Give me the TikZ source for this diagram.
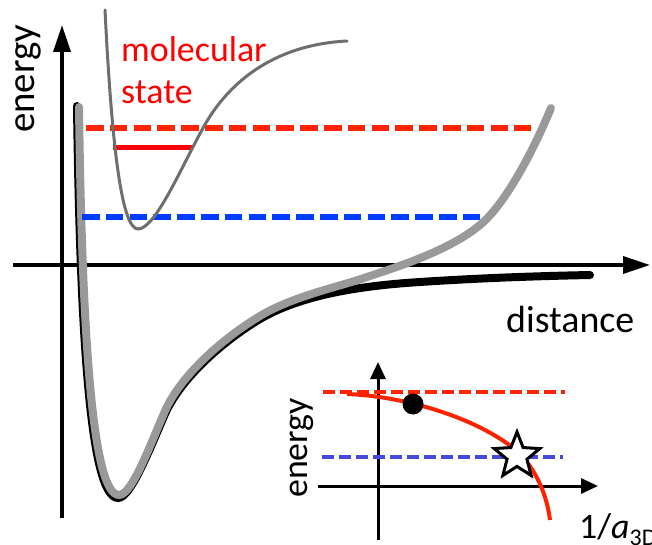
\documentclass[tikz,border=0pt]{standalone}
\usepackage{fontspec}
\setmainfont{Carlito}
\usetikzlibrary{arrows.meta,shapes.geometric}
\definecolor{dred}{HTML}{FF2200}
\definecolor{pred}{HTML}{FF0000}
\definecolor{dblue}{HTML}{003CFF}
\definecolor{iblue}{HTML}{4848DC}
\definecolor{potgray}{HTML}{999999}
\definecolor{molgray}{HTML}{6E6E6E}
\begin{document}
\begin{tikzpicture}[x=1bp,y=-1bp,
  axis/.style={line width=3.5bp,-{Triangle[length=27bp,width=17bp]}},
  iaxis/.style={line width=3bp,-{Triangle[length=17bp,width=15bp]}},
  reddash/.style={dred,line width=5.7bp,dash pattern=on 17.5bp off 6.3bp},
  bluedash/.style={dblue,line width=5.7bp,dash pattern=on 17.5bp off 6.3bp},
  ireddash/.style={dred,line width=4bp,dash pattern=on 12bp off 5bp},
  ibluedash/.style={iblue,line width=4bp,dash pattern=on 12bp off 5bp},
  blackpot/.style={black,line width=8bp,line cap=round},
  graypot/.style={potgray,line width=8bp,line cap=round},
  molpot/.style={molgray,line width=3bp,line cap=round},
  lbl/.style={inner sep=0pt,anchor=base west},
]
\useasboundingbox (0,0) rectangle (652,545);

% main axes
\coordinate (ya) at (62,518);
\coordinate (yb) at (62,25);
\coordinate (xa) at (13,265);
\coordinate (xb) at (650,265);
\draw[axis] (ya) -- (yb);
\draw[axis] (xa) -- (xb);

% potentials
\draw[blackpot] (77,106) .. controls (80,330) and (90,498) .. (118,498)
  .. controls (131,498) and (150,448) .. (165,414)
  .. controls (180,380) and (220,343) .. (260,319)
  .. controls (293,300) and (340,287) .. (420,282)
  .. controls (480,278) and (540,276) .. (590,275);
\draw[graypot] (79,107) .. controls (82,330) and (92,495) .. (119,495)
  .. controls (132,495) and (150,445) .. (165,411)
  .. controls (180,377) and (220,340) .. (260,316)
  .. controls (293,296) and (342,286) .. (367,277)
  .. controls (400,266) and (450,250) .. (480,225)
  .. controls (510,200) and (540,135) .. (551,108);

% levels
\coordinate (bd1) at (82,217);
\coordinate (bd2) at (486,217);
\draw[bluedash] (bd1) -- (bd2);
\coordinate (rd1) at (86,128);
\coordinate (rd2) at (531,128);
\draw[reddash] (rd1) -- (rd2);
\coordinate (rs1) at (113,148);
\coordinate (rs2) at (193,148);
\draw[pred,line width=5bp] (rs1) -- (rs2);

% molecular potential
\draw[molpot] (105,10) .. controls (112,150) and (122,229) .. (138,229)
  .. controls (155,229) and (180,170) .. (203,128)
  .. controls (226,86) and (270,45) .. (347,41);

% labels
\node[lbl,pred,font=\fontsize{36}{36}\selectfont] (mol) at (121,62) {molecular};
\node[lbl,pred,font=\fontsize{36}{36}\selectfont] (st) at (121,104) {state};
\node[lbl,font=\fontsize{38}{38}\selectfont] (dist) at (506,332) {distance};
\node[rotate=90,inner sep=0pt,font=\fontsize{39}{39}\selectfont] (en) at (28,79) {energy};

% inset
\coordinate (ia) at (378,540);
\coordinate (ib) at (378,362);
\coordinate (ic) at (318,486);
\coordinate (id) at (598,486);
\draw[iaxis] (ia) -- (ib);
\draw[iaxis] (ic) -- (id);
\coordinate (ir1) at (323,392);
\coordinate (ir2) at (565,392);
\draw[ireddash] (ir1) -- (ir2);
\coordinate (ib1) at (322,457);
\coordinate (ib2) at (563,457);
\draw[ibluedash] (ib1) -- (ib2);
\draw[dred,line width=4bp] (347,394) .. controls (400,396) and (470,415) .. (512,447)
  .. controls (535,465) and (547,495) .. (550,520);
\node[circle,fill=black,minimum size=21bp,inner sep=0pt] (dot) at (413,404) {};
\node[star,star points=5,star point ratio=2.3,minimum size=48bp,inner sep=0pt,draw=black,fill=white,line width=3bp] (star) at (517,456) {};
\node[rotate=90,inner sep=0pt,font=\fontsize{36}{36}\selectfont] (ien) at (302,448) {energy};
\node[lbl,font=\fontsize{36}{36}\selectfont] (ax) at (579,538) {1/\textit{a}\raisebox{-0.22em}{\fontsize{24}{24}\selectfont 3D}};
\end{tikzpicture}
\end{document}
